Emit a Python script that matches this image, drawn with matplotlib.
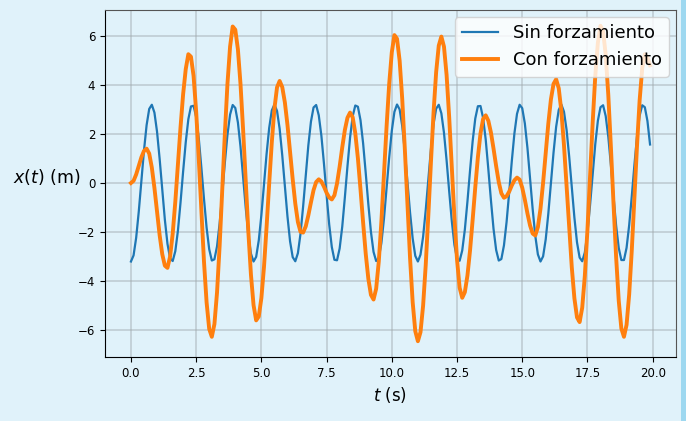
import numpy as np
import matplotlib
matplotlib.use("Agg")
import matplotlib.pyplot as plt
from matplotlib.patches import Rectangle

# ---- data ----
t = np.round(np.arange(0.0, 20.0, 0.1), 1)

sin_forz = [
    -3.20, -2.95, -2.23, -1.16, 0.09, 1.33, 2.36, 3.02, 3.19, 2.87,
    2.09, 0.98, -0.28, -1.50, -2.48, -3.07, -3.18, -2.78, -1.95, -0.80,
    0.47, 1.66, 2.60, 3.12, 3.15, 2.69, 1.82, 0.62, -0.65, -1.82,
    -2.70, -3.16, -3.11, -2.58, -1.64, -0.44, 0.83, 1.97, 2.79, 3.18,
    3.06, 2.47, 1.48, 0.25, -1.01, -2.11, -2.88, -3.20, -3.01, -2.34,
    -1.31, -0.07, 1.19, 2.25, 2.96, 3.20, 2.94, 2.21, 1.13, -0.12,
    -1.36, -2.38, -3.02, -3.19, -2.86, -2.07, -0.96, 0.31, 1.53, 2.50,
    3.08, 3.18, 2.76, 1.93, 0.78, -0.49, -1.69, -2.61, -3.13, -3.15,
    -2.67, -1.78, -0.59, 0.68, 1.85, 2.72, 3.16, 3.11, 2.56, 1.62,
    0.41, -0.86, -1.99, -2.81, -3.18, -3.06, -2.45, -1.45, -0.22, 1.04,
    2.13, 2.90, 3.20, 3.00, 2.32, 1.28, 0.04, -1.21, -2.26, -2.97,
    -3.20, -2.92, -2.19, -1.11, 0.15, 1.38, 2.40, 3.03, 3.19, 2.84,
    2.05, 0.93, -0.34, -1.55, -2.52, -3.09, -3.17, -2.75, -1.90, -0.75,
    0.52, 1.71, 2.63, 3.13, 3.14, 2.65, 1.77, 0.57, -0.70, -1.87,
    -2.73, -3.16, -3.10, -2.54, -1.59, -0.38, 0.89, 2.02, 2.82, 3.19,
    3.05, 2.43, 1.43, 0.20, -1.06, -2.15, -2.91, -3.20, -2.99, -2.30,
    -1.25, -0.01, 1.24, 2.29, 2.98, 3.20, 2.91, 2.17, 1.08, -0.18,
    -1.41, -2.42, -3.04, -3.19, -2.83, -2.03, -0.90, 0.36, 1.58, 2.54,
    3.09, 3.17, 2.73, 1.88, 0.72, -0.55, -1.74, -2.65, -3.14, -3.14,
    -2.64, -1.72, -0.54, 0.73, 1.89, 2.74, 3.17, 3.09, 2.53, 1.57,
]

con_forz = [
    0.00, 0.09, 0.35, 0.70, 1.05, 1.31, 1.40, 1.20, 0.63, -0.20,
    -1.18, -2.13, -2.90, -3.37, -3.46, -3.00, -2.07, -0.77, 0.74, 2.27,
    3.62, 4.64, 5.25, 5.15, 4.37, 2.91, 0.98, -1.16, -3.21, -4.87,
    -5.95, -6.27, -5.75, -4.46, -2.55, -0.30, 2.01, 4.05, 5.56, 6.38,
    6.25, 5.45, 4.03, 2.16, 0.07, -1.98, -3.74, -4.98, -5.60, -5.44,
    -4.69, -3.42, -1.78, -0.01, 1.67, 3.03, 3.90, 4.16, 3.91, 3.29,
    2.37, 1.28, 0.16, -0.84, -1.59, -1.99, -2.02, -1.77, -1.32, -0.79,
    -0.29, 0.04, 0.15, 0.06, -0.15, -0.40, -0.59, -0.67, -0.50, -0.02,
    0.67, 1.45, 2.16, 2.66, 2.87, 2.68, 2.03, 1.01, -0.26, -1.61,
    -2.88, -3.90, -4.56, -4.75, -4.31, -3.21, -1.58, 0.34, 2.31, 4.04,
    5.33, 6.03, 5.88, 4.99, 3.42, 1.37, -0.89, -3.07, -4.86, -6.04,
    -6.45, -6.08, -5.00, -3.35, -1.32, 0.84, 2.87, 4.52, 5.60, 5.97,
    5.56, 4.41, 2.68, 0.65, -1.39, -3.12, -4.27, -4.68, -4.45, -3.77,
    -2.74, -1.49, -0.17, 1.05, 2.02, 2.61, 2.76, 2.54, 2.06, 1.40,
    0.69, 0.04, -0.42, -0.60, -0.54, -0.35, -0.10, 0.11, 0.22, 0.14,
    -0.19, -0.68, -1.24, -1.73, -2.06, -2.14, -1.80, -1.05, 0.01, 1.23,
    2.42, 3.41, 4.04, 4.23, 3.86, 2.93, 1.55, -0.11, -1.84, -3.44,
    -4.70, -5.48, -5.67, -5.08, -3.78, -1.91, 0.26, 2.45, 4.36, 5.72,
    6.41, 6.20, 5.22, 3.58, 1.45, -0.86, -3.03, -4.80, -5.93, -6.27,
    -5.78, -4.54, -2.74, -0.62, 1.51, 3.36, 4.67, 5.25, 5.12, 4.80,
]

labels = ["Sin forzamiento", "Con forzamiento"]
xticks = [0.0, 2.5, 5.0, 7.5, 10.0, 12.5, 15.0, 17.5, 20.0]
yticks = [-6, -4, -2, 0, 2, 4, 6]

# ---- figure ----
bg = "#e0f2fa"
fig = plt.figure(figsize=(6.96, 4.21), dpi=100, facecolor=bg)
ax = fig.add_axes([105 / 696, 64 / 421, 571 / 696, 347 / 421])
ax.set_facecolor(bg)

ax.plot(t, sin_forz, color="#1f77b4", lw=1.6, label=labels[0])
ax.plot(t, con_forz, color="#ff7f0e", lw=2.8, label=labels[1])

ax.set_xticks(xticks)
ax.set_yticks(yticks)
ax.tick_params(labelsize=8.5)
ax.grid(True, color="#a0a8ac", alpha=0.55, lw=1.1)

ax.set_xlabel("$t$ (s)", fontsize=12)
ax.set_ylabel("$x(t)$ (m)", fontsize=12.5, rotation=0, ha="right", va="center")
ax.yaxis.set_label_coords(-0.043, 0.52)

for s in ["top", "right"]:
    ax.spines[s].set_color("#555555")
    ax.spines[s].set_linewidth(0.8)

leg = ax.legend(loc="upper right", fontsize=13, framealpha=0.8,
                handlelength=2.0, borderaxespad=0.4)
leg.get_frame().set_edgecolor("#cccccc")

# page strip at the right edge
fig.patches.append(Rectangle((681 / 696, 0), 5 / 696, 1, transform=fig.transFigure,
                             facecolor="#9ed8f0", edgecolor="none", zorder=-1))
fig.patches.append(Rectangle((686 / 696, 0), 10 / 696, 1, transform=fig.transFigure,
                             facecolor="white", edgecolor="none", zorder=-1))

fig.savefig("out.png", dpi=100, facecolor=bg)
